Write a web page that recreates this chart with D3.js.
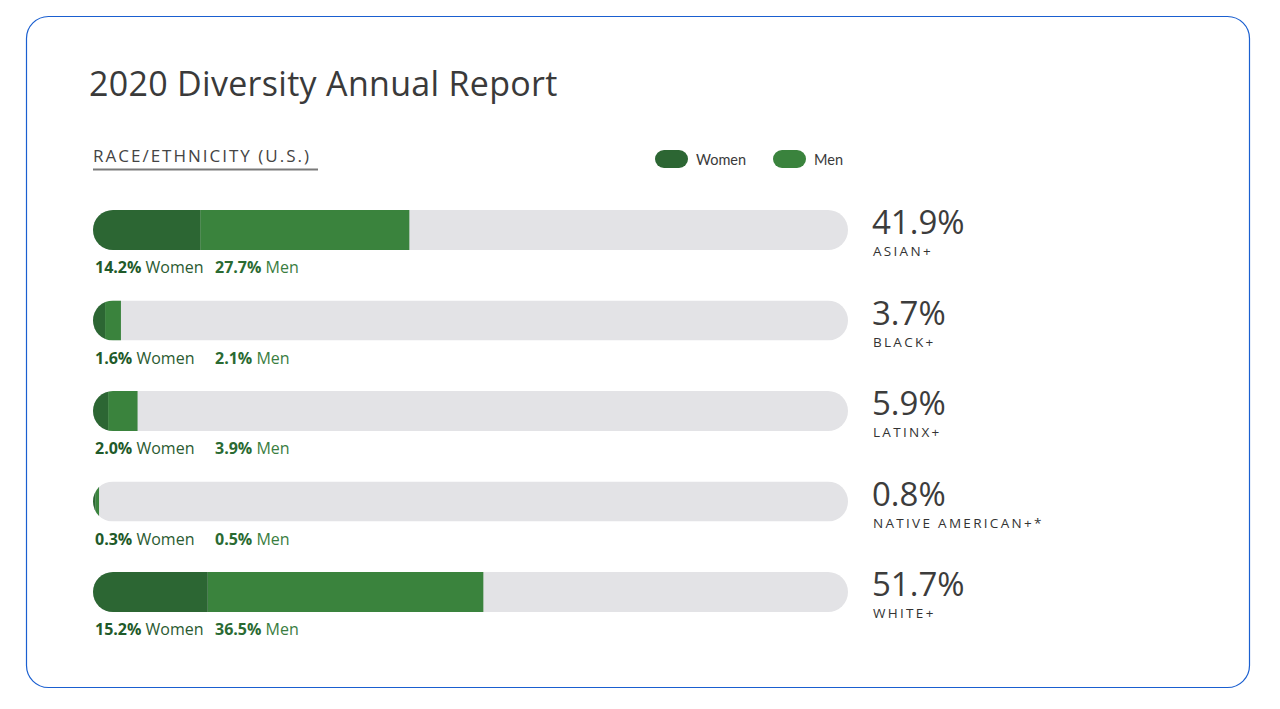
<!DOCTYPE html>
<html>
<head>
<meta charset="utf-8">
<script src="https://cdn.jsdelivr.net/npm/d3@7"></script>
<style>
  body { margin: 0; background: #fff; }
  svg { display: block; }
</style>
</head>
<body>
<div id="chart"></div>
<script>
// data
var categories = ["ASIAN+", "BLACK+", "LATINX+", "NATIVE AMERICAN+*", "WHITE+"];
var women = [14.2, 1.6, 2.0, 0.3, 15.2];
var men = [27.7, 2.1, 3.9, 0.5, 36.5];
var totals = [41.9, 3.7, 5.9, 0.8, 51.7];
var seriesNames = ["Women", "Men"];

var w = 1280, h = 709;
var barH = 40;
var font = "'Open Sans', sans-serif";

var colWomen = "#2c6633";
var colMen = "#3a833d";
var colTrack = "#e3e3e6";

var svg = d3.select("#chart").append("svg")
  .attr("width", w)
  .attr("height", h);

// card frame
svg.append("rect")
  .attr("x", 26.5).attr("y", 16.5)
  .attr("width", 1223).attr("height", 671)
  .attr("rx", 22)
  .attr("fill", "#fff")
  .attr("stroke", "#1a5fd0")
  .attr("stroke-width", 1.2);

svg.append("text")
  .attr("x", 89).attr("y", 96)
  .attr("font-family", font)
  .attr("font-size", 34)
  .attr("letter-spacing", 0.3)
  .attr("fill", "#3a3a3a")
  .text("2020 Diversity Annual Report");

// section header with underline
svg.append("text")
  .attr("x", 93).attr("y", 162)
  .attr("font-family", font)
  .attr("font-size", 17)
  .attr("letter-spacing", 2)
  .attr("fill", "#444")
  .text("RACE/ETHNICITY (U.S.)");
svg.append("line")
  .attr("x1", 93).attr("x2", 318)
  .attr("y1", 169.5).attr("y2", 169.5)
  .attr("stroke", "#7a7a7a")
  .attr("stroke-width", 2);

// legend
var legend = svg.append("g").selectAll("g")
  .data(seriesNames)
  .enter().append("g")
  .attr("transform", function(d, i) { return "translate(" + (655 + i * 118) + ",150)"; });
legend.append("rect")
  .attr("width", 33).attr("height", 18)
  .attr("rx", 9)
  .attr("fill", function(d, i) { return i == 0 ? colWomen : colMen; });
legend.append("text")
  .attr("x", 41).attr("y", 14.5)
  .attr("font-family", "Lato, sans-serif")
  .attr("font-size", 14.5)
  .attr("fill", "#3a3a3a")
  .text(function(d) { return d; });

// scales
var x = d3.scaleLinear().domain([0, 100]).range([93, 848]);
var y = d3.scalePoint().domain(categories).range([230, 592]);

var rows = svg.append("g").selectAll("g.row")
  .data(categories)
  .enter().append("g")
  .attr("class", "row")
  .attr("transform", function(d) { return "translate(0," + (y(d) - barH / 2) + ")"; });

// clip each bar to the rounded track
rows.append("clipPath")
  .attr("id", function(d, i) { return "clip" + i; })
  .append("rect")
  .attr("x", x(0)).attr("width", x(100) - x(0))
  .attr("height", barH).attr("rx", barH / 2);

var bar = rows.append("g")
  .attr("clip-path", function(d, i) { return "url(#clip" + i + ")"; });
bar.append("rect")
  .attr("x", x(0)).attr("width", x(100) - x(0))
  .attr("height", barH)
  .attr("fill", colTrack);
bar.append("rect")
  .attr("x", function(d, i) { return x(women[i]); })
  .attr("width", function(d, i) { return x(totals[i]) - x(women[i]); })
  .attr("height", barH)
  .attr("fill", colMen);
bar.append("rect")
  .attr("x", x(0))
  .attr("width", function(d, i) { return x(women[i]) - x(0); })
  .attr("height", barH)
  .attr("fill", colWomen);

// labels under the bars
var sub = rows.append("text")
  .attr("y", barH + 23)
  .attr("font-family", font)
  .attr("font-size", 16);
sub.append("tspan")
  .attr("x", 95)
  .attr("font-weight", "bold")
  .attr("fill", "#1f5a2a")
  .text(function(d, i) { return women[i].toFixed(1) + "%"; });
sub.append("tspan")
  .attr("fill", "#2b5a31")
  .text(" Women");
sub.append("tspan")
  .attr("x", 215)
  .attr("font-weight", "bold")
  .attr("fill", "#2a6a32")
  .text(function(d, i) { return men[i].toFixed(1) + "%"; });
sub.append("tspan")
  .attr("fill", "#3a7d3f")
  .text(" Men");

// totals on the right
rows.append("text")
  .attr("x", 872).attr("y", 24)
  .attr("font-family", font)
  .attr("font-size", 33)
  .attr("fill", "#3c3c3c")
  .text(function(d, i) { return totals[i].toFixed(1) + "%"; });
rows.append("text")
  .attr("x", 873).attr("y", 46)
  .attr("font-family", font)
  .attr("font-size", 13.5)
  .attr("letter-spacing", 2.3)
  .attr("fill", "#333")
  .text(function(d) { return d; });
</script>
</body>
</html>
